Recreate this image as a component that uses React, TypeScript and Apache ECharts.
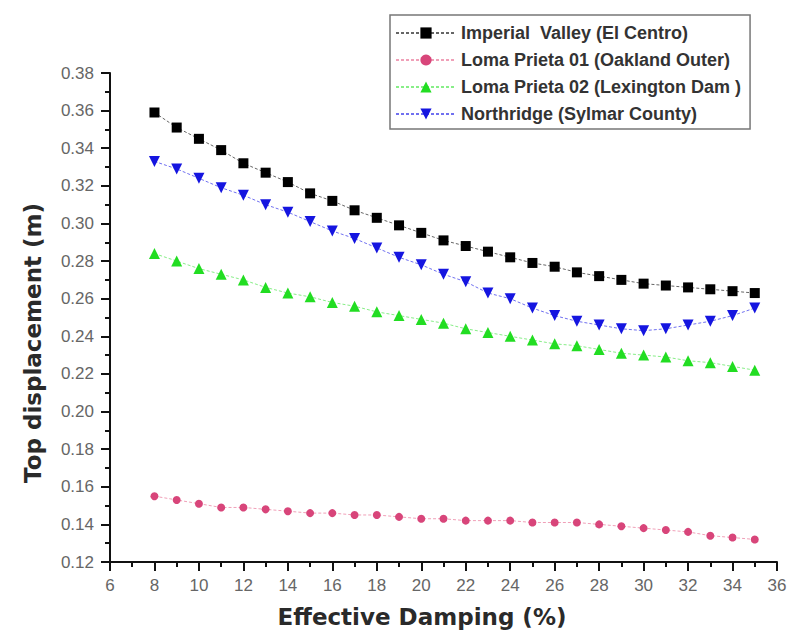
import React, { useEffect, useRef } from "react";
import * as echarts from "echarts";

const damping = [8, 9, 10, 11, 12, 13, 14, 15, 16, 17, 18, 19, 20, 21, 22, 23, 24, 25, 26, 27, 28, 29, 30, 31, 32, 33, 34, 35];

const imperialValley = [0.359, 0.351, 0.345, 0.339, 0.332, 0.327, 0.322, 0.316, 0.312, 0.307, 0.303, 0.299, 0.295, 0.291, 0.288, 0.285, 0.282, 0.279, 0.277, 0.274, 0.272, 0.270, 0.268, 0.267, 0.266, 0.265, 0.264, 0.263];
const lomaPrieta01 = [0.155, 0.153, 0.151, 0.149, 0.149, 0.148, 0.147, 0.146, 0.146, 0.145, 0.145, 0.144, 0.143, 0.143, 0.142, 0.142, 0.142, 0.141, 0.141, 0.141, 0.140, 0.139, 0.138, 0.137, 0.136, 0.134, 0.133, 0.132];
const lomaPrieta02 = [0.284, 0.280, 0.276, 0.273, 0.270, 0.266, 0.263, 0.261, 0.258, 0.256, 0.253, 0.251, 0.249, 0.247, 0.244, 0.242, 0.240, 0.238, 0.236, 0.235, 0.233, 0.231, 0.230, 0.229, 0.227, 0.226, 0.224, 0.222];
const northridge = [0.333, 0.329, 0.324, 0.319, 0.315, 0.310, 0.306, 0.301, 0.296, 0.292, 0.287, 0.282, 0.278, 0.273, 0.269, 0.263, 0.260, 0.255, 0.251, 0.248, 0.246, 0.244, 0.243, 0.244, 0.246, 0.248, 0.251, 0.255];

const seriesNames = [
  "Imperial  Valley (El Centro)",
  "Loma Prieta 01 (Oakland Outer)",
  "Loma Prieta 02 (Lexington Dam )",
  "Northridge (Sylmar County)",
];

const xTitle = "Effective Damping (%)";
const yTitle = "Top displacement (m)";

function pairs(values: number[]) {
  return damping.map((d, i) => [d, values[i]]);
}

export default function App() {
  const ref = useRef<HTMLDivElement>(null);
  useEffect(() => {
    if (!ref.current) return;
    const chart = echarts.init(ref.current, null, { renderer: "svg" });
    const labelFont = { fontFamily: "Liberation Sans, Arial, sans-serif", fontSize: 17, color: "#666" };
    chart.setOption({
      animation: false,
      backgroundColor: "#fff",
      grid: { left: 110, right: 13, top: 73, bottom: 75 },
      legend: {
        orient: "vertical",
        left: 390,
        top: 15,
        padding: [8, 9, 5, 5],
        itemGap: 7,
        itemWidth: 60,
        itemHeight: 14,
        borderColor: "#777",
        borderWidth: 1.5,
        backgroundColor: "#fff",
        textStyle: { fontFamily: "Liberation Sans, Arial, sans-serif", fontSize: 18, fontWeight: "bold", lineHeight: 20, color: "#333" },
        data: seriesNames,
      },
      xAxis: {
        type: "value",
        min: 6,
        max: 36,
        interval: 2,
        axisLine: { show: true, onZero: false, lineStyle: { color: "#111", width: 2 } },
        axisTick: { show: true, length: 9, lineStyle: { color: "#111", width: 2 } },
        minorTick: { show: true, splitNumber: 2, length: 5, lineStyle: { color: "#111", width: 2 } },
        splitLine: { show: false },
        axisLabel: { ...labelFont, margin: 15 },
      },
      yAxis: {
        type: "value",
        min: 0.12,
        max: 0.38,
        interval: 0.02,
        axisLine: { show: true, onZero: false, lineStyle: { color: "#111", width: 2 } },
        axisTick: { show: true, length: 9, lineStyle: { color: "#111", width: 2 } },
        minorTick: { show: true, splitNumber: 2, length: 5, lineStyle: { color: "#111", width: 2 } },
        splitLine: { show: false },
        axisLabel: { ...labelFont, margin: 16, formatter: (v: number) => v.toFixed(2) },
      },
      graphic: [
        {
          type: "text",
          x: 422,
          y: 617,
          style: {
            text: xTitle,
            fontFamily: "DejaVu Sans, sans-serif",
            fontWeight: "bold",
            fontSize: 23,
            fill: "#2a2a2a",
            align: "center",
            verticalAlign: "middle",
          },
        },
        {
          type: "text",
          x: 33,
          y: 343,
          rotation: Math.PI / 2,
          style: {
            text: yTitle,
            fontFamily: "DejaVu Sans, sans-serif",
            fontWeight: "bold",
            fontSize: 23,
            fill: "#2a2a2a",
            align: "center",
            verticalAlign: "middle",
          },
        },
      ],
      series: [
        {
          name: seriesNames[0],
          type: "line",
          data: pairs(imperialValley),
          symbol: "rect",
          symbolSize: 10,
          itemStyle: { color: "#000" },
          lineStyle: { color: "#666", width: 1, type: [3, 2] },
        },
        {
          name: seriesNames[1],
          type: "line",
          data: pairs(lomaPrieta01),
          symbol: "circle",
          symbolSize: 8,
          itemStyle: { color: "#d8457a" },
          lineStyle: { color: "#f0a0b8", width: 1, type: [3, 2] },
        },
        {
          name: seriesNames[2],
          type: "line",
          data: pairs(lomaPrieta02),
          symbol: "triangle",
          symbolSize: 11,
          itemStyle: { color: "#22dd22" },
          lineStyle: { color: "#88ee88", width: 1, type: [3, 2] },
        },
        {
          name: seriesNames[3],
          type: "line",
          data: pairs(northridge),
          symbol: "triangle",
          symbolRotate: 180,
          symbolSize: 11,
          itemStyle: { color: "#1515e0" },
          lineStyle: { color: "#7070f0", width: 1, type: [3, 2] },
        },
      ],
    });
    return () => chart.dispose();
  }, []);
  return <div ref={ref} style={{ position: "fixed", left: 0, top: 0, width: 790, height: 637 }} />;
}
